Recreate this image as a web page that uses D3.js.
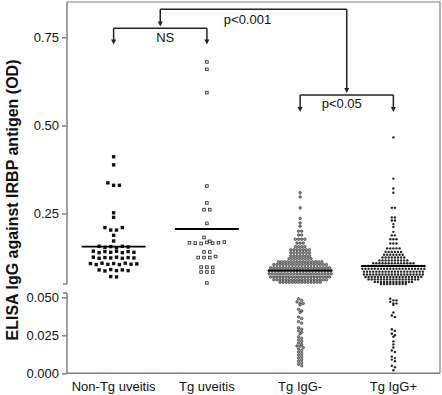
<!DOCTYPE html>
<html>
<head>
<meta charset="utf-8">
<script src="https://cdn.jsdelivr.net/npm/d3@7"></script>
<style>
    body { margin: 0; background: #fff; }
    svg text { font-family: "Liberation Sans", Arial, sans-serif; fill: #111; }
</style>
</head>
<body>
<div id="chart"></div>
<script>
/* -------------------------------------------------------
   DATOS
------------------------------------------------------- */

const categories = ["Non-Tg uveitis", "Tg uveitis", "Tg IgG-", "Tg IgG+"];

// puntos individuales
const nonTgValues = [
    0.411, 0.388, 0.337, 0.330, 0.330, 0.252, 0.239,
    0.210, 0.203, 0.203, 0.210, 0.188, 0.172,
    0.157, 0.154, 0.156, 0.153, 0.157, 0.155,
    0.143, 0.139, 0.142, 0.140, 0.143, 0.139, 0.142, 0.140,
    0.126, 0.123, 0.125, 0.124, 0.126, 0.123, 0.125, 0.124,
    0.108, 0.105, 0.109, 0.106, 0.108, 0.105, 0.109, 0.106, 0.107,
    0.090, 0.087, 0.091, 0.088, 0.090, 0.088,
    0.071, 0.070
];

const tgUveitisValues = [
    0.680, 0.659, 0.593, 0.328, 0.280, 0.261, 0.261, 0.222, 0.182,
    0.167, 0.166, 0.165, 0.168, 0.166, 0.167, 0.169, 0.171,
    0.141, 0.141, 0.125, 0.125, 0.125, 0.128,
    0.098, 0.098, 0.097, 0.084, 0.084, 0.084,
    0.053
];

// filas [valor, cantidad] para los grupos densos
const tgIgGNegRows = [
    [0.309, 1], [0.297, 1], [0.266, 1], [0.236, 1], [0.223, 1], [0.214, 1],
    [0.200, 2], [0.189, 2], [0.177, 4], [0.166, 3],
    [0.156, 4], [0.147, 7], [0.139, 7], [0.130, 7], [0.122, 8],
    [0.113, 15], [0.105, 18], [0.096, 20], [0.088, 21], [0.079, 21],
    [0.070, 20], [0.062, 18], [0.055, 14],
    [0.049, 1], [0.048, 1], [0.047, 1], [0.046, 2], [0.045, 1],
    [0.042, 1], [0.041, 1], [0.040, 1],
    [0.037, 1], [0.036, 1], [0.034, 1], [0.033, 1],
    [0.030, 1], [0.029, 1], [0.028, 1], [0.027, 1], [0.026, 1], [0.024, 1],
    [0.023, 1], [0.022, 1], [0.021, 1], [0.020, 1],
    [0.019, 1], [0.018, 2], [0.017, 1], [0.016, 1], [0.015, 1], [0.014, 1], [0.013, 1],
    [0.012, 1], [0.011, 1], [0.010, 1], [0.009, 1], [0.008, 1], [0.007, 1],
    [0.006, 1], [0.005, 1]
];

const tgIgGPosRows = [
    [0.466, 1], [0.349, 1], [0.321, 1], [0.309, 1], [0.266, 2],
    [0.239, 2], [0.230, 2], [0.220, 1], [0.212, 1],
    [0.198, 1], [0.188, 2], [0.177, 3], [0.165, 3], [0.151, 5],
    [0.141, 6], [0.133, 7], [0.125, 8], [0.117, 10], [0.109, 14],
    [0.101, 21], [0.093, 21], [0.085, 20], [0.077, 20], [0.070, 19],
    [0.063, 17], [0.056, 13], [0.050, 9],
    [0.049, 1], [0.048, 2], [0.047, 1], [0.046, 2], [0.045, 1],
    [0.040, 1], [0.038, 1], [0.037, 1],
    [0.029, 1], [0.028, 1], [0.026, 1], [0.025, 1], [0.024, 1],
    [0.021, 1], [0.019, 1], [0.017, 1], [0.015, 1], [0.014, 1],
    [0.011, 1], [0.010, 1], [0.009, 1], [0.008, 1],
    [0.005, 1], [0.004, 1], [0.002, 1]
];

const meanValues = [0.156, 0.206, 0.088, 0.101];

const upperTicks = [0.25, 0.50, 0.75];
const lowerTicks = [0.000, 0.025, 0.050];

const comparisons = ["NS", "p<0.05", "p<0.001"];

/* -------------------------------------------------------
   DIMENSIONES Y ESCALAS
------------------------------------------------------- */

const width = 442, height = 395;
const plotLeft = 67, plotRight = 440, plotTop = 2, plotBottom = 373.3;
const breakValue = 0.05;

const svg = d3.select("#chart").append("svg")
    .attr("width", width)
    .attr("height", height);

const x = d3.scaleBand().domain(categories).range([plotLeft, plotRight]);
const cx = c => x(c) + x.bandwidth() / 2;

const yUpper = d3.scaleLinear().domain([0.05, 0.85]).range([284, plotTop]);
const yLower = d3.scaleLinear().domain([0, 0.05]).range([plotBottom, 297.3]);
const yOf = v => v < breakValue ? yLower(v) : yUpper(v);

function expandRows(rows) {
    const out = [];
    rows.forEach(([v, n]) => { for (let i = 0; i < n; i++) out.push(v); });
    return out;
}

// reparto tipo "scatter dot plot": filas por altura, centradas
function layoutGroup(values, center, dx, binH) {
    const pts = values.map((v, i) => ({ v, i, y: yOf(v) }));
    const rows = [];
    let cur = null;
    pts.slice().sort((a, b) => a.y - b.y).forEach(p => {
        if (!cur || p.y - cur.y0 >= binH) {
            cur = { y0: p.y, pts: [] };
            rows.push(cur);
        }
        cur.pts.push(p);
    });
    rows.forEach(r => {
        r.pts.sort((a, b) => a.i - b.i);
        const n = r.pts.length;
        r.pts.forEach((p, k) => { p.x = center + (k - (n - 1) / 2) * dx; });
    });
    return pts;
}

/* -------------------------------------------------------
   MARCO Y EJES
------------------------------------------------------- */

const axisColor = "#808080";

svg.append("path")
    .attr("d", `M${plotLeft},${plotTop}H${plotRight}V${plotBottom}`)
    .attr("fill", "none")
    .attr("stroke", axisColor)
    .attr("stroke-width", 1.2);

// eje x
svg.append("line")
    .attr("x1", plotLeft).attr("x2", plotRight)
    .attr("y1", plotBottom).attr("y2", plotBottom)
    .attr("stroke", axisColor).attr("stroke-width", 1.5);

const xAxis = svg.append("g")
    .attr("transform", `translate(0,${plotBottom})`)
    .call(d3.axisBottom(x).tickSize(0).tickPadding(8));
xAxis.select(".domain").remove();
xAxis.selectAll("text").attr("font-size", 13).style("font-family", "Liberation Sans, Arial, sans-serif");

// eje y partido
const upperAxis = svg.append("g")
    .attr("transform", `translate(${plotLeft},0)`)
    .call(d3.axisLeft(yUpper).tickValues(upperTicks).tickFormat(d3.format(".2f")).tickSize(5).tickPadding(3));
const lowerAxis = svg.append("g")
    .attr("transform", `translate(${plotLeft},0)`)
    .call(d3.axisLeft(yLower).tickValues(lowerTicks).tickFormat(d3.format(".3f")).tickSize(5).tickPadding(3));

[upperAxis, lowerAxis].forEach(a => {
    a.select(".domain").remove();
    a.selectAll("line").attr("stroke", axisColor).attr("stroke-width", 1.5);
    a.selectAll("text").attr("font-size", 13).style("font-family", "Liberation Sans, Arial, sans-serif");
});

svg.append("line")
    .attr("x1", plotLeft).attr("x2", plotLeft)
    .attr("y1", plotTop).attr("y2", yUpper(0.05))
    .attr("stroke", axisColor).attr("stroke-width", 1.5);
svg.append("line")
    .attr("x1", plotLeft).attr("x2", plotLeft)
    .attr("y1", 293).attr("y2", plotBottom)
    .attr("stroke", axisColor).attr("stroke-width", 1.5);
[yUpper(0.05), 293].forEach(yy => {
    svg.append("line")
        .attr("x1", plotLeft - 4).attr("x2", plotLeft)
        .attr("y1", yy).attr("y2", yy)
        .attr("stroke", axisColor).attr("stroke-width", 1.5);
});

svg.append("text")
    .attr("transform", "translate(14,200) rotate(-90)")
    .attr("text-anchor", "middle")
    .attr("dominant-baseline", "middle")
    .attr("font-size", 16)
    .attr("font-weight", "bold")
    .text("ELISA IgG against IRBP antigen (OD)");

/* -------------------------------------------------------
   PUNTOS
------------------------------------------------------- */

const nonTgPts = layoutGroup(nonTgValues, cx(categories[0]), 5.8, 4.2);
const tgUvPts = layoutGroup(tgUveitisValues, cx(categories[1]), 5.8, 4.2);
const negPts = layoutGroup(expandRows(tgIgGNegRows), cx(categories[2]), 3.1, 2);
const posPts = layoutGroup(expandRows(tgIgGPosRows), cx(categories[3]), 3.1, 2);

const sq = 3.4;

svg.append("g").selectAll("rect")
    .data(nonTgPts).enter().append("rect")
    .attr("x", d => d.x - sq / 2).attr("y", d => d.y - sq / 2)
    .attr("width", sq).attr("height", sq)
    .attr("fill", "#111");

svg.append("g").selectAll("rect")
    .data(tgUvPts).enter().append("rect")
    .attr("x", d => d.x - sq / 2 + 0.4).attr("y", d => d.y - sq / 2 + 0.4)
    .attr("width", sq - 0.8).attr("height", sq - 0.8)
    .attr("fill", "#fff")
    .attr("stroke", "#333").attr("stroke-width", 0.9);

svg.append("g").selectAll("circle")
    .data(negPts).enter().append("circle")
    .attr("cx", d => d.x).attr("cy", d => d.y)
    .attr("r", 1.25)
    .attr("fill", "#999")
    .attr("stroke", "#333").attr("stroke-width", 0.7);

svg.append("g").selectAll("circle")
    .data(posPts).enter().append("circle")
    .attr("cx", d => d.x).attr("cy", d => d.y)
    .attr("r", 1.2)
    .attr("fill", "#222");

/* -------------------------------------------------------
   MEDIAS
------------------------------------------------------- */

svg.append("g").selectAll("line")
    .data(meanValues).enter().append("line")
    .attr("x1", (d, i) => cx(categories[i]) - 32)
    .attr("x2", (d, i) => cx(categories[i]) + 32)
    .attr("y1", d => yUpper(d)).attr("y2", d => yUpper(d))
    .attr("stroke", "#000").attr("stroke-width", 1.8);

/* -------------------------------------------------------
   COMPARACIONES (corchetes con flechas)
------------------------------------------------------- */

const br = svg.append("g")
    .attr("stroke", "#222").attr("stroke-width", 1.5).attr("fill", "none");

function arrowDown(xx, y1, y2) {
    br.append("line").attr("x1", xx).attr("x2", xx).attr("y1", y1).attr("y2", y2 - 4);
    svg.append("path")
        .attr("d", `M${xx - 2.5},${y2 - 5}L${xx + 2.5},${y2 - 5}L${xx},${y2}Z`)
        .attr("fill", "#222");
}

function bracket(a, b, yLine, yTip, label, yText, shift) {
    const x1 = cx(categories[a]), x2 = cx(categories[b]);
    br.append("line").attr("x1", x1).attr("x2", x2).attr("y1", yLine).attr("y2", yLine);
    arrowDown(x1, yLine, yTip);
    arrowDown(x2, yLine, yTip);
    svg.append("text")
        .attr("x", (x1 + x2) / 2 + shift).attr("y", yText)
        .attr("text-anchor", "middle")
        .attr("font-size", 13)
        .text(label);
    return (x1 + x2) / 2;
}

const midA = bracket(0, 1, 28.3, 44.5, comparisons[0], 42, 5);
const midB = bracket(2, 3, 95, 112, comparisons[1], 108, -5);

br.append("line").attr("x1", midA).attr("x2", midB).attr("y1", 9.3).attr("y2", 9.3);
arrowDown(midA, 9.3, 26.5);
arrowDown(midB, 9.3, 93);
svg.append("text")
    .attr("x", (midA + midB) / 2 - 6).attr("y", 24)
    .attr("text-anchor", "middle")
    .attr("font-size", 13)
    .text(comparisons[2]);
</script>
</body>
</html>
